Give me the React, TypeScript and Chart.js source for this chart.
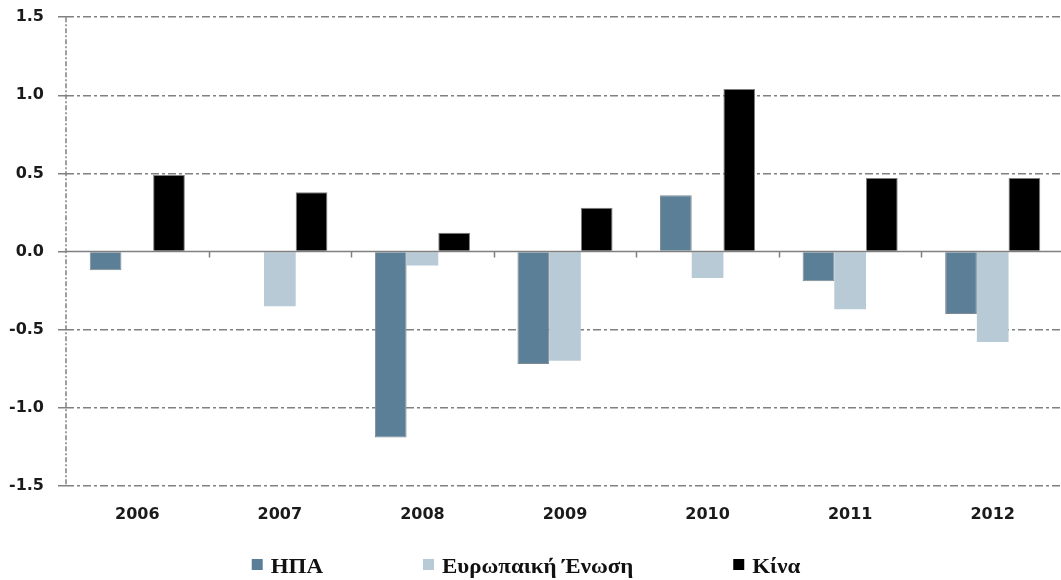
import React, { useEffect, useRef } from "react";
import { Chart, registerables } from "chart.js";

Chart.register(...registerables);

// ---- data ----
const categories = ["2006", "2007", "2008", "2009", "2010", "2011", "2012"];
const seriesLabels = ["ΗΠΑ", "Ευρωπαική Ένωση", "Κίνα"];
const usaValues: (number | null)[] = [-0.12, null, -1.19, -0.72, 0.36, -0.19, -0.4];
const euValues: (number | null)[] = [null, -0.35, -0.09, -0.7, -0.17, -0.37, -0.58];
const chinaValues: (number | null)[] = [0.49, 0.38, 0.12, 0.28, 1.04, 0.47, 0.47];
const yTickValues = [-1.5, -1.0, -0.5, 0.0, 0.5, 1.0, 1.5];

// ---- styles ----
const COLORS = ["#5b7f96", "#b8cad6", "#000000"];
const BORDERS = ["#7f8a92", "#b8cad6", "#7f7f7f"];
const BORDER_WIDTHS = [1, 0, 1];
const GRID_COLOR = "#808080";
const GRID_DASH = [8, 3, 3, 3];
const AXIS_DASH = [5, 2, 2, 2];
const FONT_FAMILY = "'DejaVu Sans', Verdana, sans-serif";
const X_TICK_FONT = { family: FONT_FAMILY, size: 16, weight: "bold" as const };
const Y_TICK_FONT = { family: FONT_FAMILY, size: 16, weight: "bold" as const, lineHeight: 0.4 };
const TEXT_COLOR = "#1a1a1a";
const LEGEND_FONT = "bold 20.5px 'Liberation Serif', 'Times New Roman', serif";
const LEGEND_STRETCH = 1.12;
const LEGEND_BOX = 11;
const LEGEND_BOX_GAP = 8;
const LEGEND_ITEM_GAP = 100;
const LEGEND_CENTER_X = 526;
const LEGEND_BOTTOM_OFFSET = 7.5; // baseline distance from canvas bottom
const LEGEND_BOX_BOTTOM_OFFSET = 10;

const decorPlugin = {
  id: "decor",
  beforeDatasetsDraw(chart: any) {
    const { ctx, chartArea } = chart;
    ctx.save();
    ctx.strokeStyle = GRID_COLOR;
    ctx.lineWidth = 1.5;
    ctx.setLineDash(AXIS_DASH);
    ctx.beginPath();
    ctx.moveTo(chartArea.left, chartArea.top);
    ctx.lineTo(chartArea.left, chartArea.bottom);
    ctx.stroke();
    ctx.restore();
  },
  afterDatasetsDraw(chart: any) {
    const { ctx } = chart;
    const xs = chart.scales.x;
    const y0 = chart.scales.y.getPixelForValue(0);
    ctx.save();
    ctx.strokeStyle = GRID_COLOR;
    ctx.lineWidth = 1.5;
    ctx.setLineDash([]);
    ctx.beginPath();
    ctx.moveTo(chart.chartArea.left, y0);
    ctx.lineTo(chart.chartArea.right, y0);
    ctx.stroke();
    ctx.beginPath();
    for (let i = 0; i < categories.length - 1; i++) {
      const x = Math.round((xs.getPixelForValue(i) + xs.getPixelForValue(i + 1)) / 2) + 0.5;
      ctx.moveTo(x, y0);
      ctx.lineTo(x, y0 + 6);
    }
    ctx.stroke();
    ctx.restore();
  },
  afterDraw(chart: any) {
    const { ctx } = chart;
    ctx.save();
    ctx.font = LEGEND_FONT;
    const items = chart.data.datasets.map((ds: any) => {
      const tw = ctx.measureText(ds.label).width * LEGEND_STRETCH;
      return { text: ds.label, color: ds.backgroundColor, w: LEGEND_BOX + LEGEND_BOX_GAP + tw };
    });
    const total = items.reduce((s: number, it: any) => s + it.w, 0) + LEGEND_ITEM_GAP * (items.length - 1);
    let x = LEGEND_CENTER_X - total / 2;
    const baseline = chart.height - LEGEND_BOTTOM_OFFSET;
    const boxBottom = chart.height - LEGEND_BOX_BOTTOM_OFFSET;
    ctx.textBaseline = "alphabetic";
    ctx.textAlign = "left";
    items.forEach((it: any) => {
      ctx.fillStyle = it.color;
      ctx.fillRect(x, boxBottom - LEGEND_BOX, LEGEND_BOX, LEGEND_BOX);
      ctx.fillStyle = "#111111";
      ctx.save();
      ctx.translate(x + LEGEND_BOX + LEGEND_BOX_GAP, baseline);
      ctx.scale(LEGEND_STRETCH, 1);
      ctx.fillText(it.text, 0, 0);
      ctx.restore();
      x += it.w + LEGEND_ITEM_GAP;
    });
    ctx.restore();
  },
};

export default function App() {
  const canvasRef = useRef<HTMLCanvasElement | null>(null);

  useEffect(() => {
    const canvas = canvasRef.current;
    if (!canvas) return;
    const seriesValues = [usaValues, euValues, chinaValues];
    const chart = new Chart(canvas, {
      type: "bar",
      data: {
        labels: categories,
        datasets: seriesLabels.map((label, i) => ({
          label,
          data: seriesValues[i],
          backgroundColor: COLORS[i],
          borderColor: BORDERS[i],
          borderWidth: BORDER_WIDTHS[i],
          categoryPercentage: 0.667,
          barPercentage: 1.0,
        })),
      },
      options: {
        responsive: false,
        animation: false,
        layout: { padding: { top: 17, bottom: 37, left: 0, right: 0 } },
        plugins: {
          legend: { display: false },
          tooltip: { enabled: false },
        },
        scales: {
          x: {
            grid: { display: false, drawTicks: false },
            border: { display: false },
            ticks: { font: X_TICK_FONT, color: TEXT_COLOR, padding: 19, maxRotation: 0 },
          },
          y: {
            min: yTickValues[0],
            max: yTickValues[yTickValues.length - 1],
            afterBuildTicks: (scale: any) => {
              scale.ticks = yTickValues.map((v) => ({ value: v }));
            },
            afterFit: (scale: any) => {
              scale.width = 66;
            },
            grid: {
              color: (ctx: any) => (ctx.tick && ctx.tick.value === 0 ? "rgba(0,0,0,0)" : GRID_COLOR),
              lineWidth: 1.5,
              drawTicks: true,
              tickLength: 8,
              tickColor: GRID_COLOR,
              tickWidth: 1.5,
              tickBorderDash: GRID_DASH,
            },
            border: {
              display: false,
              dash: GRID_DASH,
            },
            ticks: {
              font: Y_TICK_FONT,
              color: TEXT_COLOR,
              padding: 14,
              callback: (v: any) => Number(v).toFixed(1),
            },
          },
        },
      },
      plugins: [decorPlugin],
    });
    return () => chart.destroy();
  }, []);

  return (
    <div
      style={{
        position: "absolute",
        left: 0,
        top: 0,
        width: 1061,
        height: 580,
        overflow: "hidden",
        background: "#ffffff",
      }}
    >
      <canvas ref={canvasRef} width={1064} height={580} style={{ display: "block" }} />
    </div>
  );
}
